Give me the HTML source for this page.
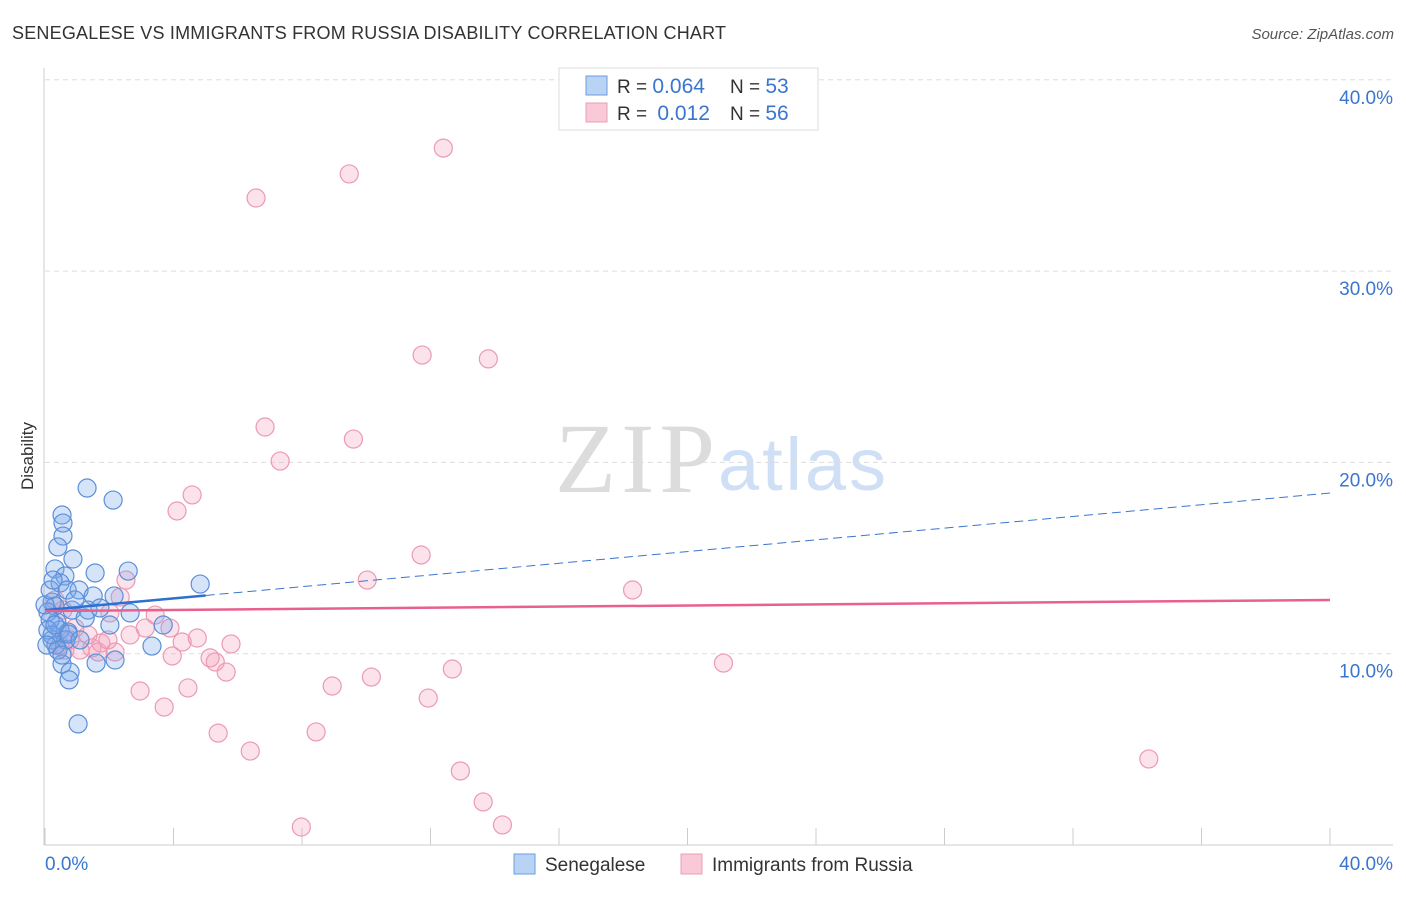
<!DOCTYPE html>
<html><head><meta charset="utf-8"><style>
body{margin:0;background:#fff;font-family:"Liberation Sans",sans-serif;}
svg text{font-family:"Liberation Sans",sans-serif;}
svg text.serif{font-family:"Liberation Serif",serif;}
</style></head><body>
<svg id="chart" width="1406" height="892">
<text x="12" y="39" font-size="18" fill="#333" textLength="714">SENEGALESE VS IMMIGRANTS FROM RUSSIA DISABILITY CORRELATION CHART</text>
<text x="1394" y="39" font-size="15" fill="#555" font-style="italic" text-anchor="end">Source: ZipAtlas.com</text>
<text x="33" y="456" font-size="17" fill="#333" transform="rotate(-90 33 456)" text-anchor="middle">Disability</text>
<g>
<text class="serif" x="555" y="492" font-size="100" fill="#dcdcdc" textLength="160">ZIP</text>
<text x="718" y="490" font-size="74" fill="#cfdff5" textLength="168">atlas</text>
</g>
<g id="grid"></g><g id="axes"></g><g id="pts"></g><g id="trend"></g>
<g>
<rect x="559" y="68" width="259" height="62" fill="#fff" stroke="#ddd"/>
<rect x="586" y="76" width="21" height="19" fill="#b9d3f5" stroke="#6a9de0"/>
<rect x="586" y="103" width="21" height="19" fill="#f9c9d8" stroke="#e8a0b8"/>
<text x="617" y="93" font-size="19" fill="#333">R = <tspan fill="#3a75d0" font-size="21">0.064</tspan></text>
<text x="730" y="93" font-size="19" fill="#333">N = <tspan fill="#3a75d0" font-size="21">53</tspan></text>
<text x="617" y="120" font-size="19" fill="#333">R = <tspan fill="#3a75d0" dx="5" font-size="21">0.012</tspan></text>
<text x="730" y="120" font-size="19" fill="#333">N = <tspan fill="#3a75d0" font-size="21">56</tspan></text>
</g>
<g>
<rect x="514" y="854" width="21" height="20" fill="#b9d3f5" stroke="#6a9de0"/>
<text x="545" y="871" font-size="19" fill="#333">Senegalese</text>
<rect x="681" y="854" width="21" height="20" fill="#f9c9d8" stroke="#e8a0b8"/>
<text x="712" y="871" font-size="19" fill="#333">Immigrants from Russia</text>
</g>
</svg>
<script>
const yTicks=[10,20,30,40];
const yTickLabels=["10.0%","20.0%","30.0%","40.0%"];
const xTicks=[0,4,8,12,16,20,24,28,32,36,40];
const blueX=[1.31,2.12,0.53,0.56,0.56,0.40,0.87,0.31,1.56,2.59,0.62,0.47,0.69,1.06,1.50,2.15,4.83,0.22,0.31,0.84,1.34,2.65,3.68,1.25,0.37,0.47,0.72,0.09,0.16,0.22,0.34,0.65,0.72,3.33,0.53,0.78,0.75,1.59,2.18,1.03,0.09,0.22,0.0,0.31,0.06,1.71,2.02,0.40,0.53,0.93,0.16,0.25,1.09];
const blueY=[18.66,18.03,17.25,16.83,16.15,15.58,14.95,14.43,14.22,14.32,14.06,13.70,13.33,13.33,13.02,13.02,13.64,12.70,12.49,12.28,12.28,12.13,11.50,11.87,11.66,11.24,11.13,12.18,11.76,10.72,10.45,10.72,11.03,10.40,9.46,9.04,8.63,9.51,9.67,6.33,11.24,10.98,12.55,11.50,10.45,12.39,11.50,10.19,9.93,12.81,13.33,13.85,10.72];
const pinkX=[9.47,12.40,6.57,11.74,13.80,6.85,9.60,7.32,4.58,4.11,11.71,10.03,18.29,2.52,2.34,3.43,2.02,3.12,2.65,3.89,4.27,4.74,5.79,5.14,5.30,5.64,3.96,1.46,1.74,2.18,1.34,0.93,0.78,0.47,1.09,2.96,4.45,3.71,5.39,6.39,8.44,8.94,10.16,12.68,11.93,21.12,12.93,13.64,14.24,7.98,34.36,1.65,0.56,0.31,1.96,0.62];
const pinkY=[35.08,36.43,33.82,25.61,25.41,21.85,21.22,20.07,18.30,17.46,15.16,13.85,13.33,13.85,12.96,12.02,12.13,11.34,10.98,11.34,10.61,10.82,10.51,9.78,9.57,9.04,9.88,10.30,10.56,10.09,10.98,11.34,10.72,10.45,10.19,8.05,8.21,7.21,5.85,4.91,5.91,8.31,8.78,9.20,7.68,9.51,3.87,2.25,1.05,0.94,4.50,10.09,12.28,12.81,10.72,10.19];
const blueTrend=[12.28,18.4];
const pinkTrend=[12.23,12.81];
const X=v=>45+v*(1285/40), Y=v=>845-v*19.13;
const NS="http://www.w3.org/2000/svg";
function mk(tag,attrs,parent){const e=document.createElementNS(NS,tag);for(const k in attrs)e.setAttribute(k,attrs[k]);document.getElementById(parent).appendChild(e);return e;}
yTicks.forEach((t,i)=>{
 const g=mk('line',{x1:45,x2:1393,y1:Y(t),y2:Y(t),stroke:'#ddd','stroke-dasharray':'5,4'},'grid');
 
 
 const l=mk('text',{x:1393,y:Y(t)+24,'font-size':19,fill:'#3a75d0','text-anchor':'end'},'axes');
 l.textContent=yTickLabels[i];
 
 
});
mk('line',{x1:44,x2:44,y1:68,y2:845,stroke:'#ccc'},'axes');
mk('line',{x1:44,x2:1393,y1:845,y2:845,stroke:'#ccc'},'axes');
xTicks.forEach(t=>{
 const tk=mk('line',{x1:X(t),x2:X(t),y1:828,y2:845,stroke:'#ccc'},'axes');
 
 
});
const x0=mk('text',{x:45,y:870,'font-size':19,fill:'#3a75d0'},'axes');x0.textContent='0.0%';


const x1=mk('text',{x:1393,y:870,'font-size':19,fill:'#3a75d0','text-anchor':'end'},'axes');x1.textContent='40.0%';


pinkX.forEach((v,i)=>{
 const c=mk('circle',{cx:X(v),cy:Y(pinkY[i]),r:9,fill:'rgba(244,160,185,0.3)',stroke:'#eb9ab4','stroke-width':1.2},'pts');
 
 
});
blueX.forEach((v,i)=>{
 const c=mk('circle',{cx:X(v),cy:Y(blueY[i]),r:9,fill:'rgba(120,165,235,0.3)',stroke:'#5b8fd8','stroke-width':1.2},'pts');
 
 
});
const bAt=x=>blueTrend[0]+(blueTrend[1]-blueTrend[0])*x/40;
const t1=mk('line',{x1:X(0),y1:Y(bAt(0)),x2:X(5),y2:Y(bAt(5)),stroke:'#2f6fd0','stroke-width':2.5},'trend');


const t2=mk('line',{x1:X(5),y1:Y(bAt(5)),x2:X(40),y2:Y(bAt(40)),stroke:'#3a75d0','stroke-width':1,'stroke-dasharray':'9,5'},'trend');


const t3=mk('line',{x1:X(0),y1:Y(pinkTrend[0]),x2:X(40),y2:Y(pinkTrend[1]),stroke:'#e8608e','stroke-width':2.5},'trend');


</script>
</body></html>
